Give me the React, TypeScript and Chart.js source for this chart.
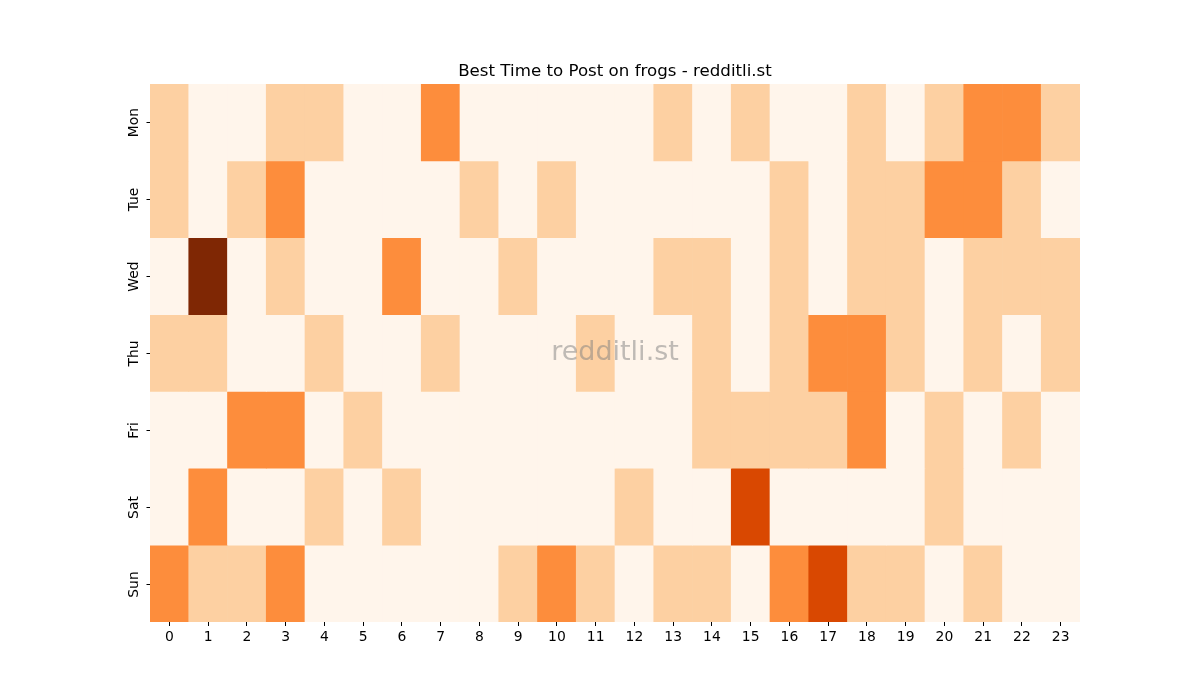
import React, { useEffect, useRef } from "react";
import { Chart, registerables } from "chart.js";

Chart.register(...registerables);

const hours = ["0","1","2","3","4","5","6","7","8","9","10","11","12","13","14","15","16","17","18","19","20","21","22","23"];
const days = ["Mon", "Tue", "Wed", "Thu", "Fri", "Sat", "Sun"];

const mon = [1,0,0,1,1,0,0,2,0,0,0,0,0,1,0,1,0,0,1,0,1,2,2,1];
const tue = [1,0,1,2,0,0,0,0,1,0,1,0,0,0,0,0,1,0,1,1,2,2,1,0];
const wed = [0,4,0,1,0,0,2,0,0,1,0,0,0,1,1,0,1,0,1,1,0,1,1,1];
const thu = [1,1,0,0,1,0,0,1,0,0,0,1,0,0,1,0,1,2,2,1,0,1,0,1];
const fri = [0,0,2,2,0,1,0,0,0,0,0,0,0,0,1,1,1,1,2,0,1,0,1,0];
const sat = [0,2,0,0,1,0,1,0,0,0,0,0,1,0,0,3,0,0,0,0,1,0,0,0];
const sun = [2,1,1,2,0,0,0,0,0,1,2,1,0,1,1,0,2,3,1,1,0,1,0,0];

const rows = [mon, tue, wed, thu, fri, sat, sun];
const palette = ["#fff5eb", "#fdd0a2", "#fd8d3c", "#d94801", "#7f2704"];

const FONT = "'DejaVu Sans', sans-serif";

const overlay = {
  id: "overlay",
  afterDraw(chart: any) {
    const { ctx, chartArea } = chart;
    const ys = chart.scales.y;
    ctx.save();
    ctx.strokeStyle = "#000";
    ctx.lineWidth = 1;
    ctx.fillStyle = "#000";
    ctx.font = `13.9px ${FONT}`;
    ctx.textAlign = "center";
    ctx.textBaseline = "bottom";
    days.forEach((d, i) => {
      const y = Math.round(ys.getPixelForValue(i + 0.5)) + 0.5;
      ctx.beginPath();
      ctx.moveTo(chartArea.left - 3.5, y);
      ctx.lineTo(chartArea.left, y);
      ctx.stroke();
      ctx.save();
      ctx.translate(chartArea.left - 9, y);
      ctx.rotate(-Math.PI / 2);
      ctx.fillText(d, 0, 0);
      ctx.restore();
    });
    ctx.fillStyle = "#000";
    ctx.font = `16.67px ${FONT}`;
    ctx.textAlign = "center";
    ctx.textBaseline = "alphabetic";
    ctx.fillText("Best Time to Post on frogs - redditli.st", (chartArea.left + chartArea.right) / 2, chartArea.top - 8);
    ctx.fillStyle = "rgba(128,128,128,0.5)";
    ctx.font = `27px ${FONT}`;
    ctx.textBaseline = "middle";
    ctx.fillText("redditli.st", (chartArea.left + chartArea.right) / 2, (chartArea.top + chartArea.bottom) / 2);
    ctx.restore();
  },
};

export default function App() {
  const ref = useRef<HTMLCanvasElement>(null);
  useEffect(() => {
    document.body.style.margin = "0";
    const datasets = rows.map((r, i) => ({
      label: days[i],
      data: r.map(() => 1),
      backgroundColor: r.map((v) => palette[v]),
      borderWidth: 0,
      barPercentage: 1,
      categoryPercentage: 1,
      borderSkipped: false as any,
    }));
    const chart = new Chart(ref.current!, {
      type: "bar",
      data: { labels: hours, datasets },
      options: {
        animation: false,
        responsive: false,
        maintainAspectRatio: false,
        layout: { padding: { left: 120, right: 120, top: 84, bottom: 48 } },
        plugins: { legend: { display: false }, tooltip: { enabled: false }, title: { display: false } },
        scales: {
          x: {
            stacked: true,
            grid: { display: true, offset: false, drawOnChartArea: false, drawTicks: true, tickLength: 4, color: "#000", tickColor: "#000" },
            border: { display: false },
            ticks: { color: "#000", font: { family: FONT, size: 13.9 }, padding: 3, maxRotation: 0, minRotation: 0, autoSkip: false },
            afterFit: (s: any) => { s.height = 30; },
          },
          y: {
            stacked: true,
            min: 0,
            max: 7,
            reverse: true,
            grid: { display: false },
            border: { display: false },
            ticks: { display: false },
            afterFit: (s: any) => { s.width = 30; },
          },
        },
      },
      plugins: [overlay],
    });
    return () => chart.destroy();
  }, []);
  return <canvas ref={ref} width={1200} height={700} style={{ display: "block" }} />;
}
